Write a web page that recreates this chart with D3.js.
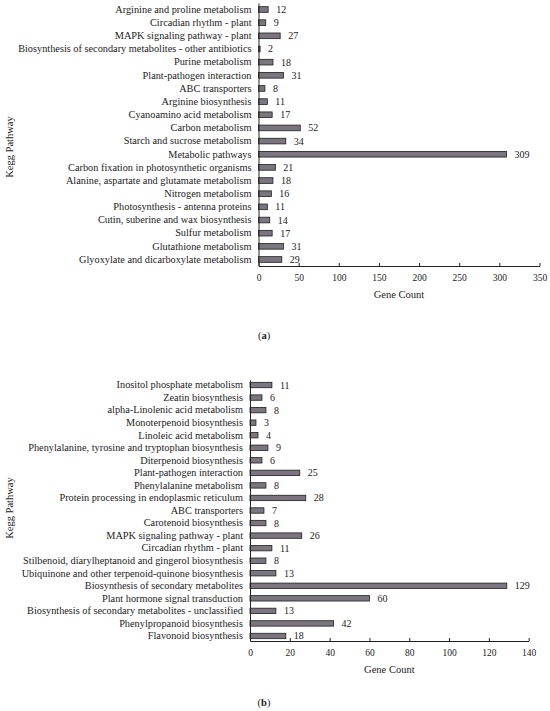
<!DOCTYPE html>
<html>
<head>
<meta charset="utf-8">
<script src="https://cdn.jsdelivr.net/npm/d3@7"></script>
<style>
  body { margin: 0; background: #fff; }
  text { font-family: "Liberation Serif", "DejaVu Serif", serif; fill: #222; }
</style>
</head>
<body>
<div id="chart"></div>
<script>
// Panel (a) data
var pathwaysA = [
    "Arginine and proline metabolism",
    "Circadian rhythm - plant",
    "MAPK signaling pathway - plant",
    "Biosynthesis of secondary metabolites - other antibiotics",
    "Purine metabolism",
    "Plant-pathogen interaction",
    "ABC transporters",
    "Arginine biosynthesis",
    "Cyanoamino acid metabolism",
    "Carbon metabolism",
    "Starch and sucrose metabolism",
    "Metabolic pathways",
    "Carbon fixation in photosynthetic organisms",
    "Alanine, aspartate and glutamate metabolism",
    "Nitrogen metabolism",
    "Photosynthesis - antenna proteins",
    "Cutin, suberine and wax biosynthesis",
    "Sulfur metabolism",
    "Glutathione metabolism",
    "Glyoxylate and dicarboxylate metabolism"
];
var countsA = [12, 9, 27, 2, 18, 31, 8, 11, 17, 52, 34, 309, 21, 18, 16, 11, 14, 17, 31, 29];
var ticksA = [0, 50, 100, 150, 200, 250, 300, 350];

// Panel (b) data
var pathwaysB = [
    "Inositol phosphate metabolism",
    "Zeatin biosynthesis",
    "alpha-Linolenic acid metabolism",
    "Monoterpenoid biosynthesis",
    "Linoleic acid metabolism",
    "Phenylalanine, tyrosine and tryptophan biosynthesis",
    "Diterpenoid biosynthesis",
    "Plant-pathogen interaction",
    "Phenylalanine metabolism",
    "Protein processing in endoplasmic reticulum",
    "ABC transporters",
    "Carotenoid biosynthesis",
    "MAPK signaling pathway - plant",
    "Circadian rhythm - plant",
    "Stilbenoid, diarylheptanoid and gingerol biosynthesis",
    "Ubiquinone and other terpenoid-quinone biosynthesis",
    "Biosynthesis of secondary metabolites",
    "Plant hormone signal transduction",
    "Biosynthesis of secondary metabolites - unclassified",
    "Phenylpropanoid biosynthesis",
    "Flavonoid biosynthesis"
];
var countsB = [11, 6, 8, 3, 4, 9, 6, 25, 8, 28, 7, 8, 26, 11, 8, 13, 129, 60, 13, 42, 18];
var ticksB = [0, 20, 40, 60, 80, 100, 120, 140];

var svgWidth = 550;
var svgHeight = 711;

var svg = d3.select("#chart")
    .append("svg")
    .attr("width", svgWidth)
    .attr("height", svgHeight);

// draws one horizontal bar panel
function drawPanel(cfg) {
    var x = d3.scaleLinear()
        .domain([0, cfg.xMax])
        .range([cfg.left, cfg.right]);

    var y = d3.scaleBand()
        .domain(cfg.names)
        .range([cfg.top, cfg.bottom])
        .paddingInner(0.57)
        .paddingOuter(cfg.outer);

    var g = svg.append("g");

    // bars
    g.selectAll("rect.bar")
        .data(cfg.values)
        .enter()
        .append("rect")
        .attr("class", "bar")
        .attr("x", x(0))
        .attr("y", (d, i) => y(cfg.names[i]))
        .attr("width", d => x(d) - x(0))
        .attr("height", y.bandwidth())
        .attr("fill", "#7b7580")
        .attr("stroke", "#1e1e1e")
        .attr("stroke-width", 0.8);

    // value labels
    g.selectAll("text.val")
        .data(cfg.values)
        .enter()
        .append("text")
        .attr("class", "val")
        .attr("x", d => x(d) + 8)
        .attr("y", (d, i) => y(cfg.names[i]) + y.bandwidth() / 2)
        .attr("dy", "0.35em")
        .style("font-size", "10px")
        .text(d => d);

    // y axis (no ticks)
    var leftAxis = d3.axisLeft(y).tickSize(0).tickPadding(7);
    var yAxis = g.append("g")
        .attr("transform", `translate(${x(0)}, 0)`)
        .call(leftAxis);
    yAxis.select(".domain").attr("stroke", "#222").attr("stroke-width", 1);
    yAxis.selectAll("text")
        .style("font-size", "10.3px")
        .style("font-family", "'Liberation Serif', serif")
        .attr("fill", "#222");

    // x axis with inward ticks
    var bottomAxis = d3.axisBottom(x)
        .tickValues(cfg.ticks)
        .tickSizeInner(-3)
        .tickSizeOuter(0)
        .tickPadding(8);
    var xAxis = g.append("g")
        .attr("transform", `translate(0, ${cfg.bottom})`)
        .call(bottomAxis);
    xAxis.select(".domain").attr("stroke", "#222");
    xAxis.selectAll("line").attr("stroke", "#222");
    xAxis.selectAll("text")
        .style("font-size", "9.5px")
        .style("font-family", "'Liberation Serif', serif")
        .attr("fill", "#333");

    // x axis title
    g.append("text")
        .attr("x", (cfg.left + cfg.right) / 2)
        .attr("y", cfg.bottom + 32)
        .attr("text-anchor", "middle")
        .style("font-size", "10.5px")
        .text("Gene Count");

    // y axis title
    g.append("text")
        .attr("transform", `translate(12.5, ${cfg.yTitle}) rotate(-90)`)
        .attr("text-anchor", "middle")
        .style("font-size", "10.5px")
        .text("Kegg Pathway");

    // panel letter
    var lab = g.append("text")
        .attr("x", cfg.letterX)
        .attr("y", cfg.letterY)
        .attr("text-anchor", "middle")
        .style("font-size", "10.5px");
    lab.append("tspan").text("(");
    lab.append("tspan").style("font-weight", "bold").text(cfg.letter);
    lab.append("tspan").text(")");
}

drawPanel({
    names: pathwaysA,
    values: countsA,
    ticks: ticksA,
    xMax: 350,
    left: 258.5,
    right: 539.5,
    top: 3,
    bottom: 266,
    outer: 0.28,
    yTitle: 147,
    letter: "a",
    letterX: 264,
    letterY: 339
});

drawPanel({
    names: pathwaysB,
    values: countsB,
    ticks: ticksB,
    xMax: 140,
    left: 250,
    right: 528.7,
    top: 380,
    bottom: 641,
    outer: 0.185,
    yTitle: 508,
    letter: "b",
    letterX: 264,
    letterY: 706
});
</script>
</body>
</html>
